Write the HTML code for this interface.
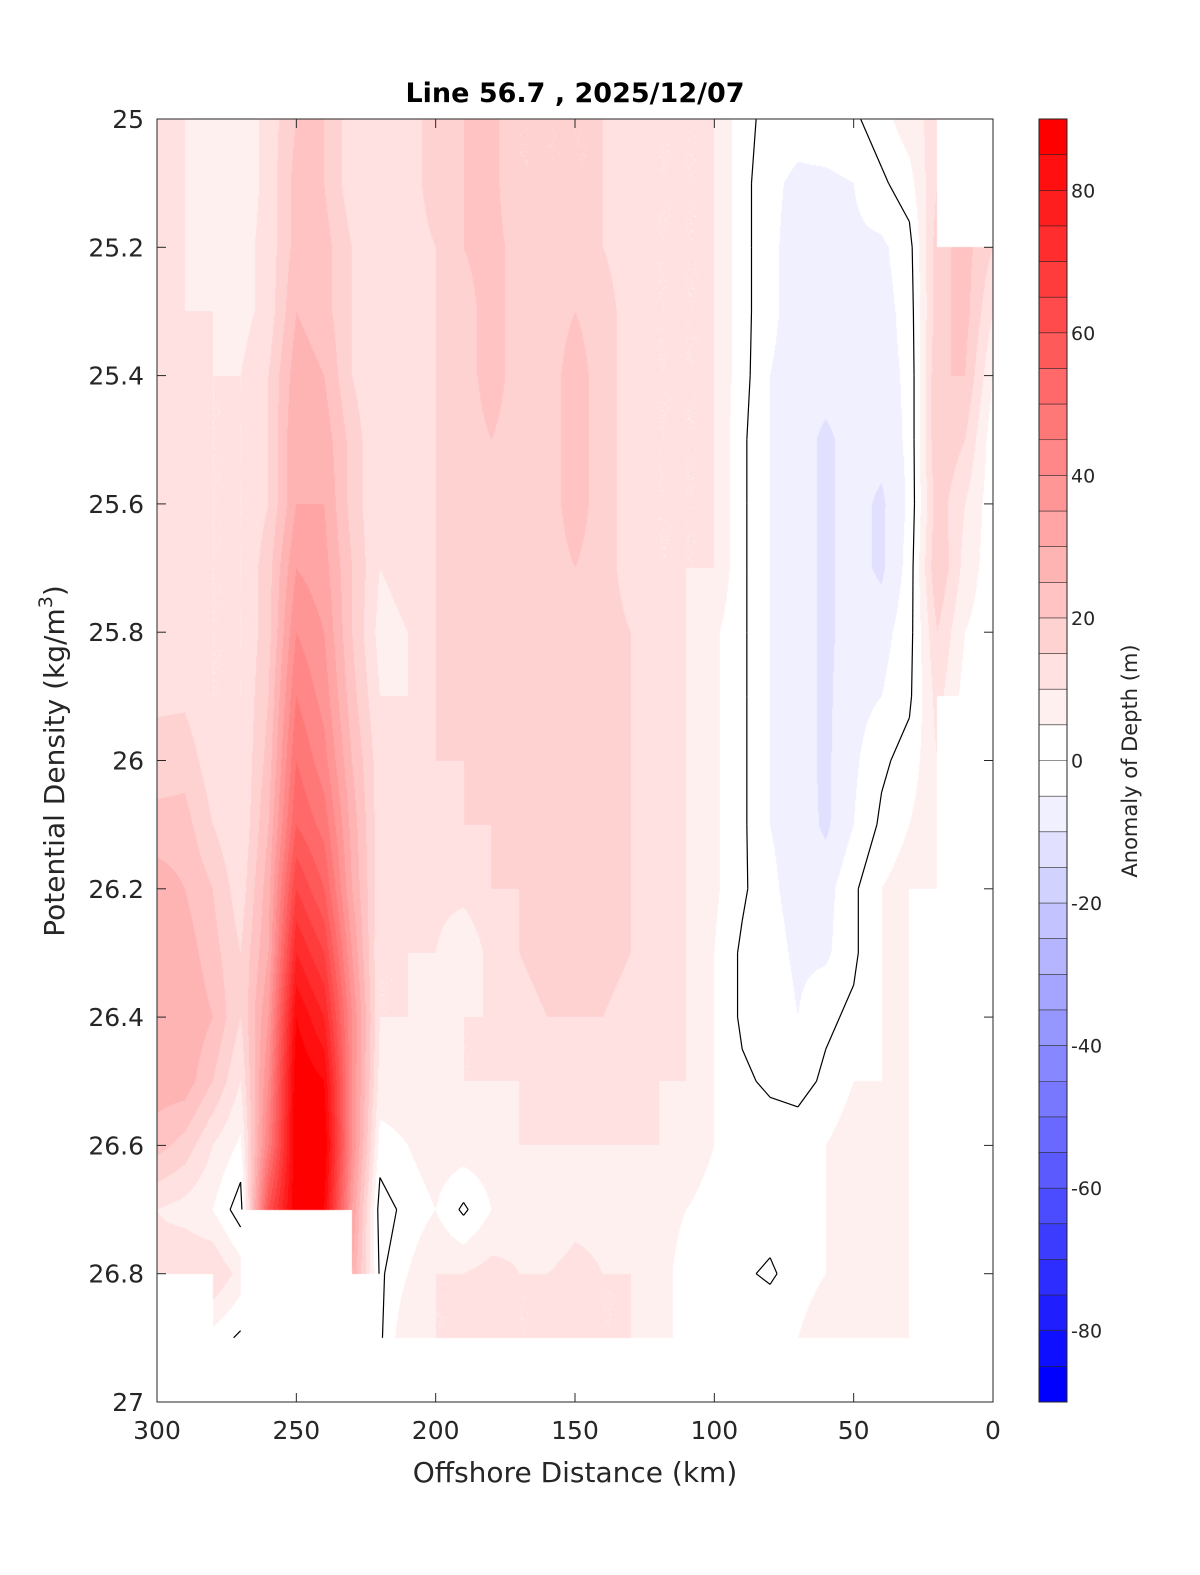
<!DOCTYPE html>
<html><head><meta charset="utf-8">
<style>
html,body{margin:0;padding:0;width:1200px;height:1575px;overflow:hidden;background:#fff;}
#wrap{position:relative;width:1200px;height:1575px;overflow:hidden;background:#fff;font-family:"DejaVu Sans","Liberation Sans",sans-serif;}
canvas{position:absolute;display:block;}
svg{position:absolute;left:0;top:0;display:block;overflow:hidden;}
</style></head>
<body>
<div id="wrap">
<canvas id="plot" width="836" height="1283" style="left:157px;top:119px"></canvas>
<svg id="svg" width="1200" height="1575"></svg>
</div>
<script>
// ---- data ----
const distances=[300,290,280,270,260,250,240,230,220,210,200,190,180,170,160,150,140,130,120,110,100,90,80,70,60,50,40,30,20,10,0];
const densities=[25.0,25.1,25.2,25.3,25.4,25.5,25.6,25.7,25.8,25.9,26.0,26.1,26.2,26.3,26.4,26.5,26.6,26.7,26.8,26.9];
const N=NaN;
const anomaly=[ // one row per distance, values per density
[12,12,12,12,12,12,12,12,12,14,17,22,28,30,30,28,22,10,12,0],
[10,10,10,10,12,12,12,12,12,14,18,22,25,28,30,28,18,8,15,N],
[7,7,8,10,10,10,10,10,10,10,12,15,20,22,25,20,10,5,15,3],
[6,6,8,8,10,10,10,10,10,10,10,10,12,15,15,10,4,-3,8,-1],
[12,12,12,12,15,15,15,18,18,20,22,25,28,30,35,40,45,60,N,N],
[20,22,22,25,28,30,30,35,40,45,50,55,65,75,85,90,90,90,N,N],
[20,20,22,22,25,28,30,32,35,38,42,48,55,65,75,85,90,85,N,N],
[12,12,15,15,15,18,18,20,20,22,25,28,30,35,40,40,40,35,30,N],
[10,10,10,10,10,10,10,10,8,10,12,12,12,10,10,8,3,-3,-1,-1],
[12,12,12,12,12,12,12,12,10,10,12,12,10,10,10,8,5,2,5,10],
[18,18,15,15,15,15,15,15,15,15,15,12,12,10,8,8,8,5,10,10],
[20,20,20,18,18,18,18,18,18,18,15,15,12,5,10,10,8,-1,10,10],
[22,22,22,22,22,20,18,18,18,18,18,15,15,12,10,10,8,5,12,12],
[15,15,18,18,18,18,18,18,18,18,18,18,15,15,12,10,10,8,10,10],
[15,15,18,18,18,18,18,18,18,18,18,18,18,18,15,12,10,5,10,10],
[15,15,18,20,22,22,22,20,20,18,18,18,18,18,15,12,10,8,12,12],
[15,15,15,18,18,18,18,18,18,18,18,18,18,18,15,12,10,8,10,10],
[12,12,12,12,12,12,12,12,15,15,15,15,15,15,12,12,10,8,10,10],
[10,10,10,10,10,10,10,10,12,12,12,12,12,12,12,10,10,8,8,8],
[10,10,10,10,10,10,10,10,10,10,10,10,10,10,10,10,8,5,2,2],
[10,10,10,10,10,10,10,10,6,6,6,6,6,5,5,5,5,3,2,2],
[2,2,2,2,2,1,1,1,1,1,1,1,1,-1,-1,1,4,3,1,3],
[-2,-4,-4,-4,-5,-5,-5,-5,-5,-5,-5,-5,-4,-3,-2,-1,3,3,-1,5],
[-3,-6,-7,-7,-7,-8,-8,-8,-8,-8,-8,-7,-7,-6,-5,-2,3,3,3,5],
[-2,-6,-6,-7,-8,-11,-11,-11,-11,-11,-11,-11,-7,-6,-1,1,5,5,5,8],
[-1,-5,-6,-7,-7,-8,-8,-8,-8,-7,-6,-5,-1,-1,1,5,8,8,5,5],
[3,-1,-6,-7,-7,-8,-11,-11,-7,-5,-1,1,5,5,5,5,8,8,8,8],
[8,3,-2,-3,-4,-4,-4,-3,-2,-1,2,5,8,8,8,8,8,5,8,8],
[12,15,18,18,20,20,18,20,15,12,10,10,8,N,N,N,N,N,N,N],
[N,N,22,22,20,15,10,8,5,3,N,N,N,N,N,N,N,N,N,N],
[N,N,15,10,5,2,2,2,2,2,N,N,N,N,N,N,N,N,N,N]
];
const xTicks=[300,250,200,150,100,50,0];
const yTicks=[25,25.2,25.4,25.6,25.8,26,26.2,26.4,26.6,26.8,27];
const cbTicks=[80,60,40,20,0,-20,-40,-60,-80];

// ---- axes ----
const L=157,R=993,T=119,B=1402;
const xs=d=>L+(300-d)/300*(R-L);
const ys=s=>T+(s-25)/2*(B-T);
const CB0=119,CB1=1402,CBX=1039,CBW=28;
const cs=v=>CB0+(90-v)/180*(CB1-CB0);

function levelColor(v){
  const a=Math.floor(Math.abs(v)/5)*5;
  if(a<5) return [255,255,255];
  const t=Math.min(1,a/85);
  const c=Math.round(255*(1-t));
  return v>0?[255,c,c]:[c,c,255];
}

// ---- field ----
const cv=document.getElementById('plot'),ctx=cv.getContext('2d');
const W=cv.width,H=cv.height,img=ctx.createImageData(W,H);
const nx=distances.length,ny=densities.length;
for(let py=0;py<H;py++){
  const s=25+(py+0.5)/(B-T)*2;
  for(let px=0;px<W;px++){
    const d=300-(px+0.5)/(R-L)*300;
    let col=[255,255,255];
    if(s<=densities[ny-1]){
      const fi=(300-d)/10, fj=(s-25)/0.1;
      const i=Math.min(nx-2,Math.floor(fi)), j=Math.min(ny-2,Math.floor(fj));
      const u=fi-i, w=fj-j;
      const a=anomaly[i][j],b=anomaly[i+1][j],c=anomaly[i][j+1],e=anomaly[i+1][j+1];
      if(![a,b,c,e].some(isNaN)){
        const v=a*(1-u)*(1-w)+b*u*(1-w)+c*(1-u)*w+e*u*w;
        col=levelColor(v);
      }
    }
    const k=(py*W+px)*4;
    img.data[k]=col[0];img.data[k+1]=col[1];img.data[k+2]=col[2];img.data[k+3]=255;
  }
}
ctx.putImageData(img,0,0);

// ---- svg overlay ----
const svg=document.getElementById('svg');
const NS='http://www.w3.org/2000/svg';
function mk(tag,attrs,parent){const el=document.createElementNS(NS,tag);for(const k in attrs)el.setAttribute(k,attrs[k]);(parent||svg).appendChild(el);return el;}

// zero contour (marching squares on grid)
const cg=mk('g',{stroke:'#000','stroke-width':1.2,fill:'none'});


for(let i=0;i<nx-1;i++)for(let j=0;j<ny-1;j++){
  const v=[anomaly[i][j],anomaly[i+1][j],anomaly[i+1][j+1],anomaly[i][j+1]];
  if(v.some(isNaN))continue;
  const p=[[distances[i],densities[j]],[distances[i+1],densities[j]],[distances[i+1],densities[j+1]],[distances[i],densities[j+1]]];
  const pts=[];
  for(let e=0;e<4;e++){
    const a=v[e],b=v[(e+1)%4];
    if((a<0)!==(b<0)){
      const t=a/(a-b);
      const P=p[e],Q=p[(e+1)%4];
      pts.push([xs(P[0]+(Q[0]-P[0])*t),ys(P[1]+(Q[1]-P[1])*t)]);
    }
  }
  for(let k=0;k+1<pts.length;k+=2){
    mk('line',{x1:pts[k][0],y1:pts[k][1],x2:pts[k+1][0],y2:pts[k+1][1]},cg);
  }
}

// frame
const fr=mk('rect',{x:L,y:T,width:R-L,height:B-T,fill:'none',stroke:'#262626','stroke-width':1});



xTicks.forEach(d=>{
  const x=xs(d);
  mk('line',{x1:x,y1:B,x2:x,y2:B-9,stroke:'#262626'});
  mk('line',{x1:x,y1:T,x2:x,y2:T+9,stroke:'#262626'});
  const t=mk('text',{x:x,y:B+37,'text-anchor':'middle','font-size':25,fill:'#262626'});
  t.textContent=d;
  
  
});
yTicks.forEach(s=>{
  const y=ys(s);
  mk('line',{x1:L,y1:y,x2:L+9,y2:y,stroke:'#262626'});
  mk('line',{x1:R,y1:y,x2:R-9,y2:y,stroke:'#262626'});
  const t=mk('text',{x:L-13,y:y+9,'text-anchor':'end','font-size':25,fill:'#262626'});
  t.textContent=s;
  
  
});

const title=mk('text',{x:575,y:102,'text-anchor':'middle','font-size':27,'font-weight':'bold',fill:'#000'});
title.textContent='Line 56.7 , 2025/12/07';



const xl=mk('text',{x:575,y:1482,'text-anchor':'middle','font-size':28,fill:'#262626'});
xl.textContent='Offshore Distance (km)';



const yl=mk('text',{x:0,y:0,'text-anchor':'middle','font-size':28,fill:'#262626',transform:'translate(64,761) rotate(-90)'});
yl.innerHTML='Potential Density (kg/m<tspan dy="-12" font-size="19">3</tspan><tspan dy="12">)</tspan>';



// colorbar
const cb=mk('g',{});


for(let a=-90;a<90;a+=5){
  const c=levelColor(a+2.5);
  mk('rect',{x:CBX,y:cs(a+5),width:CBW,height:cs(a)-cs(a+5)+0.5,fill:`rgb(${c[0]},${c[1]},${c[2]})`},cb);
  mk('line',{x1:CBX,y1:cs(a),x2:CBX+CBW,y2:cs(a),stroke:'#262626','stroke-width':0.6},cb);
}
mk('rect',{x:CBX,y:CB0,width:CBW,height:CB1-CB0,fill:'none',stroke:'#262626'},cb);
cbTicks.forEach(v=>{
  const t=mk('text',{x:CBX+32,y:cs(v)+7,'font-size':19,fill:'#262626'},cb);
  t.textContent=v;
  
  
});
const cl=mk('text',{x:0,y:0,'text-anchor':'middle','font-size':21,fill:'#262626',transform:'translate(1137,761) rotate(-90)'});
cl.textContent='Anomaly of Depth (m)';


</script>
</body></html>
